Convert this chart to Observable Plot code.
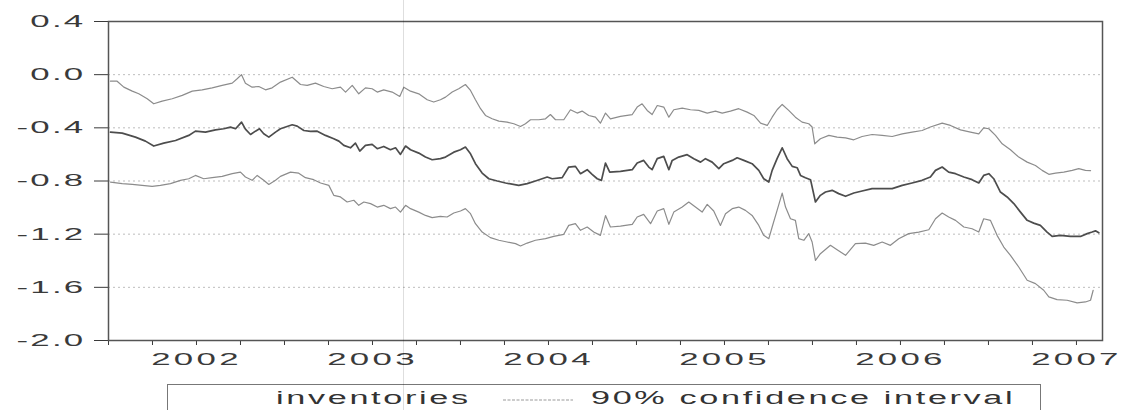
<!DOCTYPE html>
<html>
<head>
<meta charset="utf-8">
<script src="https://cdn.jsdelivr.net/npm/d3@7"></script>
<script src="https://cdn.jsdelivr.net/npm/@observablehq/plot@0.6"></script>
<style>
  body { margin: 0; background: #fff; }
  #wrap { position: relative; width: 1124px; height: 410px; overflow: hidden; background: #fff; }
  #legend { position: absolute; left: 167px; top: 384px; width: 874px; height: 40px; border: 1.5px solid #777; box-sizing: border-box; }
  .lt { position: absolute; top: 3px; font: 18px "Liberation Sans", Arial, sans-serif; letter-spacing: 1.4px;
        transform: scaleX(1.9); transform-origin: 0 0; color: #333; white-space: nowrap; }
  #scan { position: absolute; left: 403px; top: 0; width: 1px; height: 410px; background: rgba(0,0,0,0.13); }
</style>
</head>
<body>
<div id="wrap">
  <div id="chart"></div>
  <div id="legend">
    <span class="lt" id="lab1" style="left:108px"></span>
    <svg style="position:absolute;left:335px;top:13px" width="72" height="4"><line x1="0" y1="2" x2="70" y2="2" stroke="#999" stroke-width="1.2" stroke-dasharray="3,1.5"/></svg>
    <span class="lt" id="lab2" style="left:423px"></span>
  </div>
  <div id="scan"></div>
</div>
<script>
// ---- data (decimal year, value) ----
const seriesNames = ["inventories", "90% confidence interval"];
const yearLabels = [2002, 2003, 2004, 2005, 2006, 2007];
const yTicks = [0.4, 0.0, -0.4, -0.8, -1.2, -1.6, -2.0];
const gridValues = [0.0, -0.4, -0.8, -1.2, -1.6];

const inventories = [
[2001.511,-0.432],[2001.578,-0.44],[2001.653,-0.47],[2001.710,-0.50],[2001.757,-0.537],[2001.814,-0.515],
[2001.881,-0.495],[2001.956,-0.457],[2001.994,-0.425],[2002.051,-0.432],[2002.108,-0.415],[2002.155,-0.407],
[2002.193,-0.395],[2002.222,-0.407],[2002.256,-0.357],[2002.278,-0.41],[2002.307,-0.45],[2002.335,-0.425],
[2002.358,-0.407],[2002.382,-0.445],[2002.411,-0.47],[2002.449,-0.432],[2002.477,-0.407],[2002.544,-0.377],
[2002.572,-0.387],[2002.610,-0.42],[2002.648,-0.427],[2002.686,-0.425],[2002.733,-0.457],[2002.780,-0.482],
[2002.809,-0.50],[2002.837,-0.532],[2002.875,-0.55],[2002.903,-0.515],[2002.928,-0.575],[2002.960,-0.532],
[2002.998,-0.525],[2003.027,-0.557],[2003.064,-0.54],[2003.102,-0.565],[2003.131,-0.55],[2003.159,-0.60],
[2003.188,-0.537],[2003.216,-0.565],[2003.263,-0.59],[2003.301,-0.62],[2003.339,-0.64],[2003.386,-0.632],
[2003.415,-0.62],[2003.462,-0.583],[2003.500,-0.565],[2003.528,-0.545],[2003.557,-0.595],[2003.585,-0.67],
[2003.623,-0.74],[2003.661,-0.783],[2003.709,-0.80],[2003.756,-0.815],[2003.831,-0.833],[2003.879,-0.82],
[2003.926,-0.80],[2003.993,-0.77],[2004.021,-0.783],[2004.078,-0.775],[2004.115,-0.695],[2004.153,-0.69],
[2004.182,-0.745],[2004.220,-0.715],[2004.248,-0.75],[2004.277,-0.783],[2004.301,-0.795],[2004.324,-0.665],
[2004.348,-0.733],[2004.409,-0.728],[2004.476,-0.715],[2004.504,-0.665],[2004.541,-0.645],[2004.570,-0.695],
[2004.589,-0.715],[2004.618,-0.632],[2004.655,-0.615],[2004.684,-0.715],[2004.703,-0.645],[2004.740,-0.62],
[2004.788,-0.602],[2004.826,-0.632],[2004.864,-0.658],[2004.892,-0.632],[2004.930,-0.658],[2004.968,-0.707],
[2004.996,-0.67],[2005.044,-0.645],[2005.072,-0.625],[2005.110,-0.645],[2005.157,-0.67],[2005.195,-0.72],
[2005.223,-0.783],[2005.252,-0.808],[2005.271,-0.72],[2005.299,-0.632],[2005.328,-0.55],[2005.356,-0.632],
[2005.385,-0.69],[2005.413,-0.70],[2005.432,-0.758],[2005.460,-0.775],[2005.489,-0.79],[2005.517,-0.958],
[2005.545,-0.908],[2005.574,-0.883],[2005.612,-0.87],[2005.649,-0.895],[2005.688,-0.915],[2005.735,-0.89],
[2005.782,-0.875],[2005.839,-0.857],[2005.896,-0.857],[2005.953,-0.857],[2006.010,-0.833],[2006.066,-0.815],
[2006.123,-0.795],[2006.170,-0.77],[2006.199,-0.72],[2006.237,-0.695],[2006.274,-0.733],[2006.313,-0.745],
[2006.360,-0.77],[2006.407,-0.79],[2006.445,-0.815],[2006.473,-0.758],[2006.502,-0.745],[2006.530,-0.783],
[2006.568,-0.883],[2006.606,-0.92],[2006.644,-0.97],[2006.682,-1.034],[2006.720,-1.096],[2006.757,-1.117],
[2006.795,-1.134],[2006.833,-1.184],[2006.862,-1.217],[2006.909,-1.209],[2006.966,-1.217],[2007.023,-1.217],
[2007.061,-1.196],[2007.089,-1.184],[2007.108,-1.175],[2007.127,-1.19]
];

const upperBand = [
[2001.511,-0.049],[2001.549,-0.049],[2001.587,-0.094],[2001.635,-0.124],[2001.672,-0.144],[2001.720,-0.181],
[2001.757,-0.219],[2001.805,-0.199],[2001.862,-0.181],[2001.919,-0.156],[2001.976,-0.124],[2002.032,-0.114],
[2002.089,-0.099],[2002.146,-0.081],[2002.203,-0.064],[2002.231,-0.031],[2002.256,0.0],[2002.278,-0.064],
[2002.316,-0.094],[2002.354,-0.089],[2002.392,-0.114],[2002.430,-0.099],[2002.477,-0.056],[2002.544,-0.019],
[2002.591,-0.074],[2002.629,-0.081],[2002.676,-0.064],[2002.723,-0.089],[2002.771,-0.106],[2002.818,-0.094],
[2002.847,-0.131],[2002.885,-0.081],[2002.922,-0.144],[2002.960,-0.099],[2002.998,-0.106],[2003.027,-0.131],
[2003.064,-0.114],[2003.112,-0.131],[2003.155,-0.164],[2003.178,-0.094],[2003.216,-0.124],[2003.263,-0.144],
[2003.311,-0.189],[2003.348,-0.206],[2003.386,-0.189],[2003.415,-0.169],[2003.453,-0.131],[2003.490,-0.106],
[2003.528,-0.074],[2003.557,-0.119],[2003.585,-0.189],[2003.614,-0.256],[2003.642,-0.307],[2003.680,-0.332],
[2003.718,-0.35],[2003.765,-0.357],[2003.803,-0.369],[2003.841,-0.39],[2003.869,-0.369],[2003.898,-0.339],
[2003.945,-0.339],[2003.983,-0.332],[2004.011,-0.30],[2004.040,-0.339],[2004.087,-0.339],[2004.125,-0.264],
[2004.163,-0.289],[2004.191,-0.274],[2004.229,-0.307],[2004.267,-0.32],[2004.295,-0.365],[2004.324,-0.289],
[2004.352,-0.332],[2004.409,-0.314],[2004.476,-0.30],[2004.504,-0.244],[2004.532,-0.219],[2004.561,-0.269],
[2004.589,-0.30],[2004.618,-0.232],[2004.655,-0.244],[2004.684,-0.32],[2004.712,-0.264],[2004.760,-0.252],
[2004.807,-0.264],[2004.854,-0.269],[2004.902,-0.289],[2004.949,-0.274],[2004.987,-0.289],[2005.034,-0.274],
[2005.081,-0.256],[2005.129,-0.282],[2005.167,-0.307],[2005.205,-0.365],[2005.243,-0.382],[2005.271,-0.32],
[2005.299,-0.264],[2005.328,-0.224],[2005.365,-0.269],[2005.403,-0.32],[2005.441,-0.357],[2005.479,-0.369],
[2005.498,-0.394],[2005.513,-0.52],[2005.545,-0.482],[2005.593,-0.457],[2005.640,-0.47],[2005.688,-0.475],
[2005.735,-0.49],[2005.782,-0.465],[2005.839,-0.45],[2005.896,-0.457],[2005.953,-0.465],[2006.010,-0.445],
[2006.066,-0.432],[2006.123,-0.42],[2006.170,-0.394],[2006.237,-0.365],[2006.284,-0.382],[2006.341,-0.415],
[2006.398,-0.432],[2006.445,-0.445],[2006.473,-0.40],[2006.502,-0.407],[2006.540,-0.457],[2006.578,-0.52],
[2006.625,-0.565],[2006.672,-0.62],[2006.720,-0.658],[2006.767,-0.683],[2006.805,-0.72],[2006.843,-0.75],
[2006.881,-0.741],[2006.928,-0.733],[2006.976,-0.72],[2007.013,-0.707],[2007.051,-0.72],[2007.080,-0.722]
];

const lowerBand = [
[2001.511,-0.808],[2001.578,-0.82],[2001.635,-0.826],[2001.691,-0.833],[2001.748,-0.84],[2001.795,-0.833],
[2001.852,-0.82],[2001.909,-0.795],[2001.956,-0.783],[2001.994,-0.758],[2002.041,-0.783],[2002.089,-0.775],
[2002.146,-0.765],[2002.203,-0.745],[2002.250,-0.733],[2002.278,-0.77],[2002.316,-0.795],[2002.345,-0.758],
[2002.382,-0.795],[2002.411,-0.826],[2002.449,-0.795],[2002.477,-0.765],[2002.534,-0.733],[2002.581,-0.741],
[2002.619,-0.775],[2002.666,-0.79],[2002.705,-0.815],[2002.752,-0.833],[2002.780,-0.908],[2002.818,-0.92],
[2002.856,-0.958],[2002.894,-0.945],[2002.922,-0.983],[2002.951,-0.958],[2002.989,-0.97],[2003.027,-0.996],
[2003.064,-0.983],[2003.102,-1.008],[2003.131,-0.996],[2003.159,-1.034],[2003.188,-0.983],[2003.216,-1.008],
[2003.263,-1.034],[2003.301,-1.059],[2003.339,-1.076],[2003.386,-1.066],[2003.424,-1.071],[2003.462,-1.041],
[2003.500,-1.026],[2003.528,-1.008],[2003.557,-1.046],[2003.585,-1.121],[2003.623,-1.184],[2003.670,-1.226],
[2003.718,-1.246],[2003.765,-1.259],[2003.813,-1.271],[2003.841,-1.289],[2003.879,-1.267],[2003.926,-1.246],
[2003.983,-1.234],[2004.030,-1.217],[2004.087,-1.201],[2004.115,-1.134],[2004.153,-1.121],[2004.182,-1.171],
[2004.220,-1.146],[2004.257,-1.184],[2004.295,-1.209],[2004.324,-1.06],[2004.352,-1.146],[2004.409,-1.139],
[2004.476,-1.126],[2004.504,-1.071],[2004.541,-1.051],[2004.580,-1.121],[2004.618,-1.026],[2004.655,-1.008],
[2004.684,-1.126],[2004.712,-1.034],[2004.760,-0.996],[2004.797,-0.958],[2004.835,-0.996],[2004.873,-1.034],
[2004.902,-0.976],[2004.939,-1.026],[2004.977,-1.134],[2005.006,-1.046],[2005.044,-1.008],[2005.081,-0.996],
[2005.119,-1.021],[2005.157,-1.059],[2005.195,-1.134],[2005.223,-1.209],[2005.252,-1.234],[2005.271,-1.146],
[2005.299,-1.021],[2005.328,-0.891],[2005.347,-0.996],[2005.375,-1.084],[2005.403,-1.096],[2005.422,-1.234],
[2005.451,-1.246],[2005.479,-1.196],[2005.498,-1.259],[2005.517,-1.397],[2005.545,-1.347],[2005.602,-1.284],
[2005.640,-1.317],[2005.688,-1.359],[2005.744,-1.271],[2005.801,-1.267],[2005.848,-1.284],[2005.896,-1.259],
[2005.943,-1.284],[2005.990,-1.234],[2006.047,-1.196],[2006.104,-1.184],[2006.161,-1.167],[2006.199,-1.084],
[2006.237,-1.041],[2006.274,-1.071],[2006.313,-1.096],[2006.360,-1.146],[2006.407,-1.159],[2006.445,-1.184],
[2006.473,-1.084],[2006.511,-1.096],[2006.549,-1.209],[2006.587,-1.297],[2006.625,-1.359],[2006.672,-1.447],
[2006.720,-1.547],[2006.767,-1.572],[2006.814,-1.622],[2006.843,-1.672],[2006.890,-1.692],[2006.947,-1.697],
[2007.004,-1.717],[2007.051,-1.71],[2007.080,-1.697],[2007.095,-1.622]
];

const quarterTicks = d3.range(2001.5, 2007.2, 0.25);

document.getElementById("lab1").textContent = seriesNames[0];
document.getElementById("lab2").textContent = seriesNames[1];

const chart = Plot.plot({
  width: 1124,
  height: 372,
  marginLeft: 108,
  marginRight: 22,
  marginTop: 21,
  marginBottom: 32,
  style: { fontFamily: "'Liberation Sans', Arial, sans-serif", fontSize: "17px", color: "#3a3a3a", background: "#fff" },
  x: { domain: [2001.5, 2007.148], ticks: quarterTicks, tickSize: 5, tickPadding: 7, label: null,
       tickFormat: d => yearLabels.some(y => Math.abs(y - d) < 1e-6) ? String(Math.round(d)) : "" },
  y: { domain: [-2.0, 0.4], ticks: yTicks, tickSize: 14, tickPadding: 9, label: null,
       tickFormat: d => (Math.abs(d) < 1e-9 ? 0 : d).toFixed(1) },
  marks: [
    Plot.ruleY(gridValues, { stroke: "#bdbdbd", strokeWidth: 1, strokeDasharray: "2,3" }),
    Plot.line(upperBand, { x: d => d[0], y: d => d[1], stroke: "#8c8c8c", strokeWidth: 1.2 }),
    Plot.line(lowerBand, { x: d => d[0], y: d => d[1], stroke: "#8c8c8c", strokeWidth: 1.2 }),
    Plot.line(inventories, { x: d => d[0], y: d => d[1], stroke: "#4d4d4d", strokeWidth: 1.7 }),
    Plot.frame({ stroke: "#555", strokeWidth: 1.5 })
  ]
});
document.getElementById("chart").appendChild(chart);

// widen the axis lettering like the reference
chart.querySelectorAll('[aria-label^="x-axis"] text, [aria-label^="y-axis"] text').forEach(t => {
  const tr = t.getAttribute("transform") || "";
  t.setAttribute("transform", tr + " scale(2.05,1)");
  const isX = t.closest('[aria-label^="x-axis"]') !== null;
  t.style.letterSpacing = isX ? "1.6px" : "1.1px";
});
</script>
</body>
</html>
